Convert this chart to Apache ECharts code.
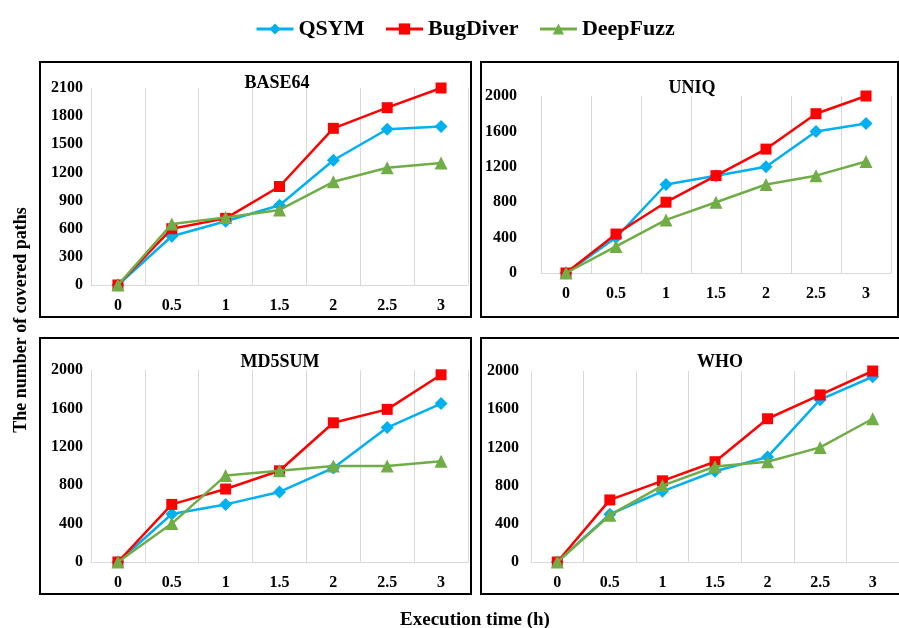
<!DOCTYPE html>
<html>
<head>
<meta charset="utf-8">
<script src="https://cdn.jsdelivr.net/npm/echarts@6/dist/echarts.min.js"></script>
<style>html,body{margin:0;padding:0;background:#fff}#c{width:899px;height:628px}</style>
</head>
<body>
<div id="c"></div>
<script>
const categories = ['0', '0.5', '1', '1.5', '2', '2.5', '3'];
const seriesNames = ['QSYM', 'BugDiver', 'DeepFuzz'];
const panelTitles = ['BASE64', 'UNIQ', 'MD5SUM', 'WHO'];

const base64QSYM = [0, 520, 680, 850, 1330, 1660, 1690];
const base64BugDiver = [0, 600, 710, 1050, 1670, 1890, 2100];
const base64DeepFuzz = [0, 650, 720, 800, 1100, 1250, 1300];

const uniqQSYM = [0, 400, 1000, 1100, 1200, 1600, 1690];
const uniqBugDiver = [0, 440, 800, 1100, 1400, 1800, 2000];
const uniqDeepFuzz = [0, 300, 600, 800, 1000, 1100, 1260];

const md5sumQSYM = [0, 500, 600, 730, 980, 1400, 1650];
const md5sumBugDiver = [0, 600, 760, 950, 1450, 1590, 1950];
const md5sumDeepFuzz = [0, 400, 900, 950, 1000, 1000, 1050];

const whoQSYM = [0, 500, 740, 950, 1100, 1700, 1940];
const whoBugDiver = [0, 650, 850, 1050, 1500, 1750, 2000];
const whoDeepFuzz = [0, 490, 800, 1000, 1050, 1200, 1500];

const yMax = [2100, 2000, 2000, 2000];
const yInterval = [300, 400, 400, 400];

const panelData = [
  [base64QSYM, base64BugDiver, base64DeepFuzz],
  [uniqQSYM, uniqBugDiver, uniqDeepFuzz],
  [md5sumQSYM, md5sumBugDiver, md5sumDeepFuzz],
  [whoQSYM, whoBugDiver, whoDeepFuzz]
];

const FONT = 'Liberation Serif';
const colors = ['#00B0F0', '#FF0000', '#70AD47'];
const symbols = ['diamond', 'rect', 'triangle'];
const symbolSizes = [13, 11, 13];

const grids = [
  { left: 91, right: 431, top: 88, bottom: 343 },
  { left: 541, right: 8, top: 96, bottom: 355 },
  { left: 91, right: 431, top: 370, bottom: 66 },
  { left: 531, right: -12, top: 371, bottom: 66 }
];
const yLabelMargins = [8, 24, 8, 12];
const titlePos = [[277, 83], [692, 88], [280, 362], [720, 362]];
const boxes = [[40, 62, 431, 255], [481, 62, 417, 255], [40, 338, 431, 256], [481, 338, 430, 256]];

const labelStyle = { fontFamily: FONT, fontWeight: 'bold', fontSize: 16, color: '#000' };

const xAxes = grids.map((g, i) => ({
  type: 'category', gridIndex: i, data: categories, boundaryGap: true,
  axisLine: { show: true, lineStyle: { color: '#D9D9D9', width: 1 } },
  axisTick: { show: false },
  splitLine: { show: true, lineStyle: { color: '#D9D9D9', width: 1 } },
  axisLabel: Object.assign({ margin: 13, interval: 0 }, labelStyle)
}));
const yAxes = grids.map((g, i) => ({
  type: 'value', gridIndex: i, min: 0, max: yMax[i], interval: yInterval[i],
  axisLine: { show: false }, axisTick: { show: false }, splitLine: { show: false },
  axisLabel: Object.assign({ margin: yLabelMargins[i], formatter: v => String(v) }, labelStyle)
}));

const series = [];
panelData.forEach((arr, p) => {
  arr.forEach((vals, s) => {
    series.push({
      name: seriesNames[s], type: 'line', xAxisIndex: p, yAxisIndex: p,
      data: vals, symbol: symbols[s], symbolSize: symbolSizes[s],
      showSymbol: true, showAllSymbol: true,
      lineStyle: { color: colors[s], width: 2.5 },
      itemStyle: { color: colors[s], borderWidth: 0 },
      z: 2 + s
    });
  });
});

const graphics = [];
boxes.forEach(b => {
  graphics.push({ type: 'rect', shape: { x: b[0], y: b[1], width: b[2], height: b[3] },
    style: { fill: 'none', stroke: '#000', lineWidth: 2 }, z: 100 });
});
panelTitles.forEach((t, i) => {
  graphics.push({ type: 'text', x: titlePos[i][0], y: titlePos[i][1],
    style: { text: t, fontFamily: FONT, fontWeight: 'bold', fontSize: 18, fill: '#000',
      textAlign: 'center', textVerticalAlign: 'middle', align: 'center', verticalAlign: 'middle' }, z: 100 });
});
graphics.push({ type: 'text', x: 21, y: 320, rotation: Math.PI / 2,
  style: { text: 'The number of covered paths', fontFamily: FONT, fontWeight: 'bold', fontSize: 18, fill: '#000',
    textAlign: 'center', textVerticalAlign: 'middle', align: 'center', verticalAlign: 'middle' }, z: 100 });
graphics.push({ type: 'text', x: 475, y: 620,
  style: { text: 'Execution time (h)', fontFamily: FONT, fontWeight: 'bold', fontSize: 19, fill: '#000',
    textAlign: 'center', textVerticalAlign: 'middle', align: 'center', verticalAlign: 'middle' }, z: 100 });

const chart = echarts.init(document.getElementById('c'), null, { renderer: 'canvas' });
chart.setOption({
  animation: false,
  backgroundColor: '#fff',
  legend: {
    data: seriesNames, left: 250, top: 13, itemWidth: 37, itemHeight: 14, itemGap: 20,
    lineStyle: { width: 3 },
    textStyle: { fontFamily: FONT, fontWeight: 'bold', fontSize: 22, color: '#000' }
  },
  grid: grids,
  xAxis: xAxes,
  yAxis: yAxes,
  series: series,
  graphic: graphics
});
</script>
</body>
</html>
